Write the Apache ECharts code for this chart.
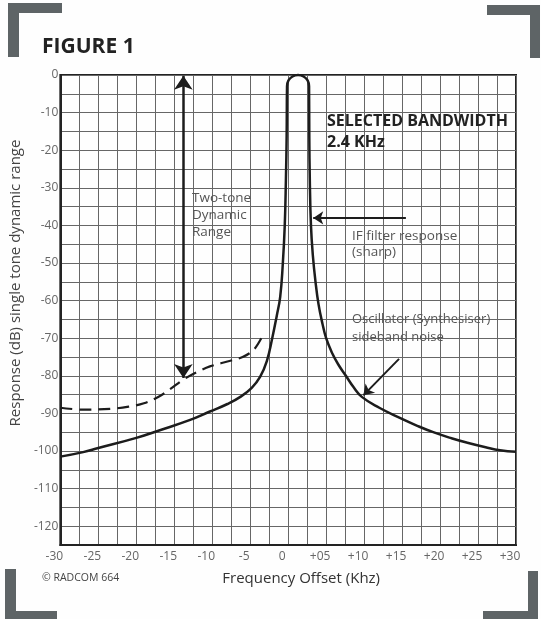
<!DOCTYPE html>
<html><head><meta charset="utf-8">
<script src="https://cdn.jsdelivr.net/npm/echarts@6/dist/echarts.min.js"></script>
<style>html,body{margin:0;padding:0;background:#fefefe;}#c{width:541px;height:619px;}</style>
</head><body><div id="c"></div>
<script>
// Tick labels
const xTickLabels = ['-30','-25','-20','-15','-10','-5','0','+05','+10','+15','+20','+25','+30'];
const yTickLabels = ['0','-10','-20','-30','-40','-50','-60','-70','-80','-90','-100','-110','-120'];

// IF filter response + oscillator sideband noise (solid curve)
const responseX = [-30,-27,-25,-20,-16.8,-13,-10.3,-8,-6.3,-4.8,-3.7,-2.8,-2.1,-1.5,-1.05,-0.7,-0.45,-0.3,-0.2,-0.15,
  0.04,0.57,1.3,2.03,2.56,2.75,
  2.78,2.85,3.0,3.25,3.6,4.0,4.5,5.0,5.8,6.6,7.6,8.6,9.7,12,14.7,17,19.1,21.5,23.6,26,27.9,30];
const responseY = [-101.5,-100.3,-99.2,-96.5,-94.4,-91.8,-89.5,-87.5,-85.6,-83.2,-80.3,-76,-70,-64,-59,-50,-40,-28,-16,-3,
  -1.45,-0.39,0,-0.39,-1.45,-3,
  -16,-28,-40,-48,-55,-61,-66,-70,-74,-77,-80,-83,-85.6,-88.5,-91.2,-93.3,-95,-96.6,-97.8,-99,-99.8,-100.2];

// Two-tone (dashed) curve
const twoToneX = [-30,-27,-23.4,-21,-19,-17,-15.5,-13.8,-12,-10.3,-8,-6,-4.5,-3.4];
const twoToneY = [-88.5,-89,-88.8,-88.2,-87.3,-85.5,-83.5,-81,-79,-77.5,-76.2,-75,-73,-69.5];

// Annotation arrows [start, end]
const dynRangeArrowX = [-13.8,-13.8];
const dynRangeArrowY = [-0.2,-80.6];
const ifArrowX = [15.5,3.3];
const ifArrowY = [-38,-38];
const oscArrowX = [14.6,9.9];
const oscArrowY = [-75.5,-85.2];

const pairs = (xs, ys) => xs.map((x, i) => [x, ys[i]]);
const arrow = (xs, ys) => [{coords: [[xs[0], ys[0]], [xs[1], ys[1]]]}];

const chart = echarts.init(document.getElementById('c'), null, {renderer: 'canvas'});
const grey = '#5e6466';
const txt = '#555';
const F = "'Open Sans', sans-serif";

chart.setOption({
  backgroundColor: '#fefefe',
  animation: false,
  grid: {left: 60, right: 25, top: 75, bottom: 74, show: true, borderColor: '#222', borderWidth: 2, backgroundColor: 'transparent'},
  xAxis: {
    type: 'value', min: -30, max: 30, interval: 2.5,
    name: 'Frequency Offset (Khz)', nameLocation: 'middle', nameGap: 26,
    nameTextStyle: {fontFamily: F, fontSize: 15, color: '#333', padding: [0, 0, 0, 26]},
    axisLine: {show: true, onZero: false, lineStyle: {color: '#222', width: 2}},
    axisTick: {show: false},
    axisLabel: {
      margin: 6, fontFamily: F, fontSize: 12, color: '#666', padding: [0, 12, 0, 0],
      formatter: v => (Math.abs(v % 5) < 1e-9 ? xTickLabels[Math.round((v + 30) / 5)] : '')
    },
    splitLine: {show: true, lineStyle: {color: '#666', width: 1}}
  },
  yAxis: {
    type: 'value', min: -125, max: 0, interval: 5,
    name: 'Response (dB) single tone dynamic range', nameLocation: 'middle', nameGap: 27,
    nameTextStyle: {fontFamily: F, fontSize: 15, color: '#444', padding: [0, 0, 0, 54]},
    axisLine: {show: true, onZero: false, lineStyle: {color: '#222', width: 2}},
    axisTick: {show: false},
    axisLabel: {
      margin: 2, fontFamily: F, fontSize: 12, color: '#666',
      formatter: v => (Math.abs(v % 10) < 1e-9 ? yTickLabels[Math.round(-v / 10)] : '')
    },
    splitLine: {show: true, lineStyle: {color: '#666', width: 1}}
  },
  series: [
    {
      type: 'line', name: 'IF filter response', data: pairs(responseX, responseY),
      smooth: 0.45, showSymbol: false, symbol: 'none', clip: false,
      lineStyle: {color: '#1c1c1c', width: 2.5}, z: 5
    },
    {
      type: 'line', name: 'Two-tone', data: pairs(twoToneX, twoToneY),
      smooth: 0.35, showSymbol: false, symbol: 'none',
      lineStyle: {color: '#1c1c1c', width: 2.2, type: [12, 7]}, z: 5
    },
    {
      type: 'lines', coordinateSystem: 'cartesian2d', data: arrow(dynRangeArrowX, dynRangeArrowY),
      symbol: ['arrow', 'arrow'], symbolSize: 14,
      lineStyle: {color: '#1c1c1c', width: 2.5, opacity: 1}, z: 6
    },
    {
      type: 'lines', coordinateSystem: 'cartesian2d', data: arrow(ifArrowX, ifArrowY),
      symbol: ['none', 'arrow'], symbolSize: 10,
      lineStyle: {color: '#1c1c1c', width: 2.2, opacity: 1}, z: 6
    },
    {
      type: 'lines', coordinateSystem: 'cartesian2d', data: arrow(oscArrowX, oscArrowY),
      symbol: ['none', 'arrow'], symbolSize: 10,
      lineStyle: {color: '#1c1c1c', width: 2, opacity: 1}, z: 6
    }
  ],
  graphic: [
    // corner brackets
    {type: 'rect', shape: {x: 8, y: 3, width: 54, height: 10}, style: {fill: grey}},
    {type: 'rect', shape: {x: 8, y: 3, width: 11, height: 54}, style: {fill: grey}},
    {type: 'rect', shape: {x: 487, y: 5, width: 53, height: 10}, style: {fill: grey}},
    {type: 'rect', shape: {x: 530, y: 5, width: 10, height: 53}, style: {fill: grey}},
    {type: 'rect', shape: {x: 5, y: 569, width: 11, height: 50}, style: {fill: grey}},
    {type: 'rect', shape: {x: 5, y: 611, width: 52, height: 8}, style: {fill: grey}},
    {type: 'rect', shape: {x: 528, y: 571, width: 10, height: 48}, style: {fill: grey}},
    {type: 'rect', shape: {x: 483, y: 611, width: 55, height: 8}, style: {fill: grey}},
    // texts
    {type: 'text', x: 42, y: 47, style: {text: 'FIGURE 1', font: "bold 21px 'Open Sans', sans-serif", fill: '#222', verticalAlign: 'middle'}},
    {type: 'text', x: 327, y: 121, z: 10, style: {text: 'SELECTED BANDWIDTH', font: "bold 16px 'Open Sans', sans-serif", fill: '#222', verticalAlign: 'middle'}},
    {type: 'text', x: 327, y: 142, z: 10, style: {text: '2.4 KHz', font: "bold 16px 'Open Sans', sans-serif", fill: '#222', verticalAlign: 'middle'}},
    {type: 'text', x: 192, y: 198, z: 10, style: {text: 'Two-tone', font: "13.5px 'Open Sans', sans-serif", fill: txt, verticalAlign: 'middle'}},
    {type: 'text', x: 192, y: 215, z: 10, style: {text: 'Dynamic', font: "13.5px 'Open Sans', sans-serif", fill: txt, verticalAlign: 'middle'}},
    {type: 'text', x: 192, y: 232, z: 10, style: {text: 'Range', font: "13.5px 'Open Sans', sans-serif", fill: txt, verticalAlign: 'middle'}},
    {type: 'text', x: 352, y: 236, z: 10, style: {text: 'IF filter response', font: "13.5px 'Open Sans', sans-serif", fill: txt, verticalAlign: 'middle'}},
    {type: 'text', x: 352, y: 252, z: 10, style: {text: '(sharp)', font: "13.5px 'Open Sans', sans-serif", fill: txt, verticalAlign: 'middle'}},
    {type: 'text', x: 352, y: 319, z: 10, style: {text: 'Oscillator (Synthesiser)', font: "13px 'Open Sans', sans-serif", fill: txt, verticalAlign: 'middle'}},
    {type: 'text', x: 352, y: 337, z: 10, style: {text: 'sideband noise', font: "13px 'Open Sans', sans-serif", fill: txt, verticalAlign: 'middle'}},
    {type: 'text', x: 42, y: 578, style: {text: '© RADCOM 664', font: "10.5px 'Open Sans', sans-serif", fill: '#444', verticalAlign: 'middle'}}
  ]
});
</script></body></html>
